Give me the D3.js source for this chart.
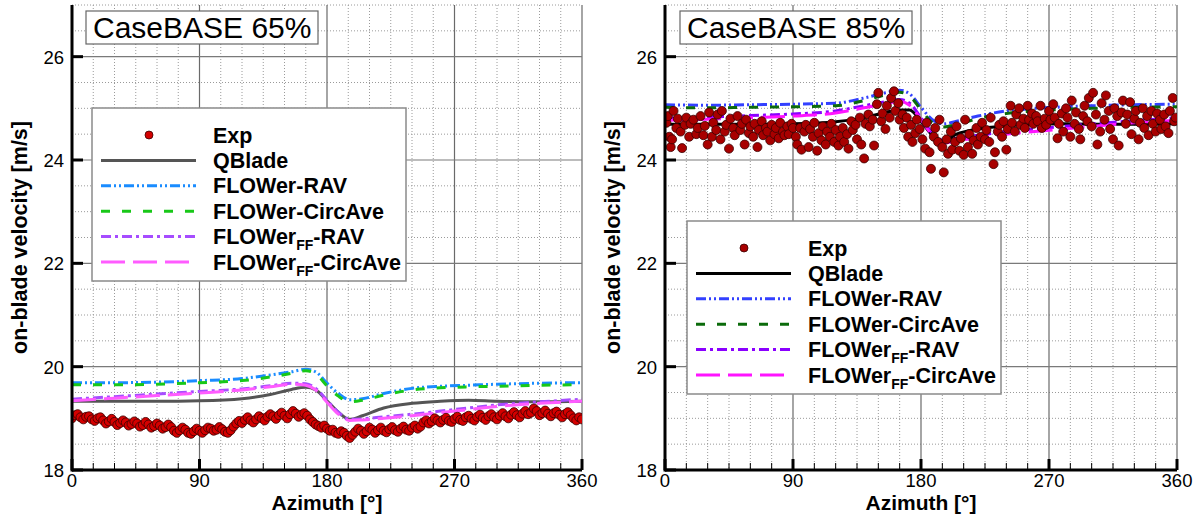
<!DOCTYPE html>
<html>
<head>
<meta charset="utf-8">
<script src="https://cdn.jsdelivr.net/npm/d3@7"></script>
<style>
body { margin: 0; background: #fff; }
svg { display: block; font-family: "Liberation Sans", Arial, Helvetica, sans-serif; }
</style>
</head>
<body>
<svg width="1199" height="517"></svg>
<script>
// ---- data ----
const xTicks = [0, 90, 180, 270, 360];
const yTicks = [18, 20, 22, 24, 26];
const titles = ['CaseBASE 65%', 'CaseBASE 85%'];
const xLabel = 'Azimuth [°]';
const yLabel = 'on-blade velocity [m/s]';

// azimuths where the simulated curves were sampled
const lineAz = [0, 30, 60, 90, 120, 140, 155, 165, 172, 180, 188, 196, 205, 220, 240, 260, 280, 300, 330, 360];

// CaseBASE 65%
const qbladeL   = [19.33, 19.33, 19.33, 19.34, 19.38, 19.46, 19.56, 19.60, 19.55, 19.34, 19.12, 18.98, 19.05, 19.20, 19.29, 19.33, 19.35, 19.33, 19.32, 19.33];
const ravL      = [19.69, 19.69, 19.70, 19.73, 19.77, 19.84, 19.90, 19.95, 19.90, 19.68, 19.48, 19.36, 19.38, 19.48, 19.58, 19.62, 19.64, 19.66, 19.68, 19.69];
const circL     = [19.65, 19.65, 19.66, 19.69, 19.73, 19.80, 19.87, 19.92, 19.86, 19.63, 19.43, 19.32, 19.35, 19.45, 19.55, 19.59, 19.61, 19.62, 19.64, 19.65];
const ffRavL    = [19.37, 19.42, 19.47, 19.52, 19.57, 19.63, 19.68, 19.67, 19.58, 19.35, 19.12, 18.98, 18.99, 19.03, 19.08, 19.14, 19.20, 19.26, 19.32, 19.37];
const ffCircL   = [19.34, 19.39, 19.44, 19.49, 19.55, 19.61, 19.66, 19.64, 19.55, 19.31, 19.08, 18.96, 18.97, 19.00, 19.05, 19.11, 19.17, 19.23, 19.29, 19.33];

// CaseBASE 85%
const qbladeR   = [24.69, 24.69, 24.69, 24.70, 24.74, 24.82, 24.92, 24.97, 24.97, 24.75, 24.48, 24.37, 24.50, 24.60, 24.66, 24.69, 24.70, 24.69, 24.69, 24.70];
const ravR      = [25.07, 25.06, 25.07, 25.08, 25.10, 25.20, 25.30, 25.35, 25.28, 25.02, 24.78, 24.70, 24.75, 24.85, 24.95, 25.00, 25.03, 25.05, 25.07, 25.08];
const circR     = [25.02, 25.01, 25.02, 25.03, 25.05, 25.15, 25.26, 25.31, 25.24, 24.97, 24.72, 24.64, 24.69, 24.80, 24.90, 24.95, 24.98, 25.00, 25.02, 25.03];
const ffRavR    = [24.81, 24.83, 24.86, 24.89, 24.95, 25.05, 25.13, 25.17, 25.10, 24.82, 24.52, 24.38, 24.42, 24.48, 24.55, 24.60, 24.65, 24.70, 24.76, 24.82];
const ffCircR   = [24.77, 24.79, 24.82, 24.85, 24.91, 25.01, 25.09, 25.13, 25.06, 24.78, 24.48, 24.33, 24.37, 24.43, 24.50, 24.55, 24.60, 24.65, 24.72, 24.77];

// experiment, [azimuth, velocity]
const expL = [
  [0,19.00],[2,19.06],[4,19.08],[6,19.02],[8,18.98],[10,19.03],[12,19.04],[14,18.98],[16,18.95],[18,19.00],[20,19.02],
  [22,18.96],[24,18.90],[26,18.94],[28,18.99],[30,18.93],[32,18.87],[34,18.91],[36,18.96],[38,18.92],[40,18.86],
  [42,18.89],[44,18.94],[46,18.90],[48,18.84],[50,18.87],[52,18.93],[54,18.88],[56,18.82],[58,18.85],[60,18.90],
  [62,18.86],[64,18.80],[66,18.83],[68,18.88],[70,18.83],[72,18.76],[74,18.72],[76,18.77],[78,18.82],[80,18.78],
  [82,18.72],[84,18.70],[86,18.75],[88,18.80],[90,18.76],[92,18.72],[94,18.77],[96,18.82],[98,18.80],[100,18.76],
  [102,18.78],[104,18.83],[106,18.79],[108,18.74],[110,18.72],[112,18.77],[114,18.84],[116,18.90],[118,18.95],[120,18.91],
  [122,18.97],[124,19.02],[126,18.96],[128,18.92],[130,18.98],[132,19.04],[134,19.00],[136,18.96],[138,19.03],[140,19.08],
  [142,19.04],[144,18.99],[146,19.06],[148,19.11],[150,19.05],[152,19.00],[154,19.08],[156,19.14],[158,19.09],[160,19.03],
  [162,19.07],[164,19.10],[166,19.05],[168,18.98],[170,18.93],[172,18.88],[174,18.85],[176,18.82],[178,18.86],[180,18.80],
  [182,18.76],[184,18.78],[186,18.72],[188,18.70],[190,18.75],[192,18.72],[194,18.66],[196,18.62],[198,18.68],[200,18.74],
  [202,18.80],[204,18.76],[206,18.70],[208,18.75],[210,18.82],[212,18.78],[214,18.72],[216,18.77],[218,18.82],[220,18.76],
  [222,18.73],[224,18.79],[226,18.83],[228,18.77],[230,18.74],[232,18.80],[234,18.84],[236,18.78],[238,18.76],[240,18.82],
  [242,18.86],[244,18.80],[246,18.84],[248,18.92],[250,18.96],[252,18.90],[254,18.94],[256,19.00],[258,18.96],[260,18.92],
  [262,18.97],[264,19.01],[266,18.95],[268,18.93],[270,18.99],[272,19.03],[274,18.97],[276,18.95],[278,19.02],[280,19.05],
  [282,18.99],[284,18.96],[286,19.03],[288,19.07],[290,19.01],[292,18.97],[294,19.04],[296,19.08],[298,19.02],[300,18.98],
  [302,19.05],[304,19.10],[306,19.04],[308,19.00],[310,19.07],[312,19.12],[314,19.06],[316,19.02],[318,19.09],[320,19.14],
  [322,19.08],[324,19.11],[326,19.19],[328,19.14],[330,19.06],[332,19.10],[334,19.15],[336,19.09],[338,19.04],[340,19.10],
  [342,19.13],[344,19.07],[346,19.02],[348,19.08],[350,19.12],[352,19.06],[354,19.00],[356,18.96],[358,19.02],[360,18.98]
];

const expR = [
  [1,24.72],[2,24.85],[3,24.45],[4,24.25],[5,24.40],[6,24.95],[8,24.62],[9,24.80],[11,24.55],[12,24.23],[14,24.68],[15,24.82],[17,24.45],[18,24.70],[20,24.78],[22,24.50],[23,24.62],[25,24.85],[27,24.48],[28,24.66],[30,24.30],[31,24.92],
  [33,24.45],[34,24.72],[36,24.58],[37,24.88],[39,24.40],[40,24.95],[42,24.55],[43,24.68],[45,24.22],[46,24.80],[48,24.62],[49,24.48],[51,24.85],[53,24.58],[54,24.70],[56,24.30],[57,24.78],[59,24.52],[60,24.65],
  [62,24.45],[63,24.70],[65,24.25],[66,24.58],[68,24.75],[69,24.48],[71,24.62],[72,24.55],[74,24.38],[75,24.68],[77,24.50],[78,24.62],[80,24.42],[81,24.72],[83,24.55],[84,24.48],[86,24.65],[87,24.50],[89,24.70],[90,24.62],
  [92,24.45],[93,24.30],[95,24.62],[96,24.20],[98,24.55],[99,24.68],[101,24.25],[102,24.60],[104,24.45],[105,24.72],[107,24.18],[108,24.52],[110,24.38],[111,24.65],[113,24.30],[114,24.55],[116,24.45],[117,24.70],[119,24.35],[120,24.58],
  [122,24.28],[123,24.45],[125,24.62],[126,24.35],[128,24.50],[129,24.22],[131,24.75],[132,24.58],[134,24.68],[135,24.40],[137,24.82],[138,24.30],[140,24.03],[141,24.70],[143,24.88],[144,24.65],[146,24.78],[147,24.28],[149,25.08],[150,25.30],[152,24.75],
  [153,24.90],[155,24.60],[156,25.05],[158,24.82],[159,25.20],[161,25.33],[162,24.95],[164,25.10],[165,24.78],[167,24.88],[168,24.62],[170,24.82],[171,24.45],[173,24.68],[174,24.35],[176,24.52],[177,24.78],[179,24.60],
  [181,24.40],[183,24.22],[184,24.72],[186,24.15],[187,23.83],[189,24.45],[190,24.62],[192,24.35],[193,24.78],[195,24.25],[196,23.76],[198,24.40],[199,24.12],[201,24.55],[202,24.20],[204,24.35],[205,24.65],[207,24.18],[208,24.42],[210,24.10],
  [211,24.78],[213,24.25],[214,24.50],[216,24.12],[217,24.38],[219,24.62],[220,24.30],[222,24.45],[223,24.72],[225,24.40],[226,24.58],[228,24.35],[229,24.82],[231,23.92],[232,24.15],[234,24.55],[235,24.68],[237,24.45],[238,24.75],[240,24.20],
  [241,24.60],[243,25.05],[244,24.72],[246,24.55],[247,24.88],[249,25.00],[250,24.68],[252,24.80],[253,24.62],[255,25.05],[256,24.78],[258,24.90],[259,24.70],[261,24.85],[262,24.75],[264,25.05],[265,24.62],[267,24.80],[268,24.68],[270,24.95],
  [271,24.78],[273,25.08],[274,24.82],[276,24.42],[277,24.70],[279,24.90],[280,24.55],[282,25.00],[283,24.82],[285,24.45],[286,25.15],[288,24.70],[289,24.92],[291,24.60],[292,24.40],[294,24.85],[295,25.05],[297,24.75],[298,25.20],[300,24.65],
  [301,25.30],[303,24.88],[304,24.30],[306,24.55],[307,25.10],[309,24.78],[310,25.25],[312,24.95],[313,24.60],[315,24.40],[316,25.00],[318,24.85],[319,24.28],[321,24.92],[322,25.15],[324,24.70],[325,24.88],[327,25.12],[328,24.50],[330,24.80],
  [331,24.95],[333,24.40],[334,24.72],[336,25.00],[337,24.62],[339,24.85],[340,24.48],[342,24.95],[343,24.70],[345,24.55],[346,24.90],[348,24.78],[349,24.60],[351,24.88],[352,24.65],[354,24.52],[355,24.95],[357,25.20],[358,24.75],[359,24.82]
];

// legend names: [main, subscript, rest]
const seriesNames = [
  ['Exp', '', ''],
  ['QBlade', '', ''],
  ['FLOWer-RAV', '', ''],
  ['FLOWer-CircAve', '', ''],
  ['FLOWer', 'FF', '-RAV'],
  ['FLOWer', 'FF', '-CircAve']
];
const dashes = [null, null, '10,3,2,3,2,3', '9,12', '10,4,3,4', '24,8'];
const colorsL = ['#d40000', '#555555', '#1a8cff', '#18c818', '#a64dff', '#ff5cff'];
const colorsR = ['#a80000', '#000000', '#3340ff', '#0b6b0b', '#8a00ff', '#ff14ff'];

const svg = d3.select('svg');
const TOP = 5, BOTTOM = 470;

const drawPanel = (p, idx) => {
    const x = d3.scaleLinear().domain([0, 360]).range([p.x0, p.x1]);
    const y = d3.scaleLinear().domain([18, 27]).range([BOTTOM, TOP]);
    const g = svg.append('g').attr('class', 'panel');

    // grid
    const minorX = d3.range(15, 360, 15).filter(v => v % 90 !== 0);
    const minorY = d3.range(18.5, 27.01, 0.5).filter(v => !yTicks.includes(v));
    g.selectAll('.mx').data(minorX).enter().append('line')
        .attr('x1', d => x(d)).attr('x2', d => x(d)).attr('y1', TOP).attr('y2', BOTTOM)
        .attr('stroke', '#9a9a9a').attr('stroke-dasharray', '1,2');
    g.selectAll('.my').data(minorY).enter().append('line')
        .attr('x1', p.x0).attr('x2', p.x1).attr('y1', d => y(d)).attr('y2', d => y(d))
        .attr('stroke', '#9a9a9a').attr('stroke-dasharray', '1,2');
    g.selectAll('.gx').data(xTicks.slice(1)).enter().append('line')
        .attr('x1', d => x(d)).attr('x2', d => x(d)).attr('y1', TOP).attr('y2', BOTTOM)
        .attr('stroke', '#6a6a6a').attr('stroke-width', 1.2);
    g.selectAll('.gy').data(yTicks.slice(1)).enter().append('line')
        .attr('x1', p.x0).attr('x2', p.x1).attr('y1', d => y(d)).attr('y2', d => y(d))
        .attr('stroke', '#7a7a7a').attr('stroke-width', 1.2);

    // data
    const clipId = 'clip' + idx;
    g.append('clipPath').attr('id', clipId).append('rect')
        .attr('x', p.x0).attr('y', TOP).attr('width', p.x1 - p.x0).attr('height', BOTTOM - TOP);
    const dataG = g.append('g').attr('clip-path', `url(#${clipId})`);

    const line = d3.line().x(d => x(d[0])).y(d => y(d[1])).curve(d3.curveMonotoneX);
    p.lines.forEach((vals, i) => {
        dataG.append('path')
            .attr('d', line(lineAz.map((a, k) => [a, vals[k]])))
            .attr('fill', 'none')
            .attr('stroke', p.colors[i + 1])
            .attr('stroke-width', 3)
            .attr('stroke-dasharray', dashes[i + 1]);
    });
    dataG.selectAll('.exp').data(p.exp).enter().append('circle')
        .attr('cx', d => x(d[0])).attr('cy', d => y(d[1]))
        .attr('r', 4.5)
        .attr('fill', p.colors[0])
        .attr('stroke', '#3a0000').attr('stroke-width', 0.8);

    // axes frame and ticks
    g.append('line').attr('x1', p.x0).attr('x2', p.x1).attr('y1', BOTTOM).attr('y2', BOTTOM)
        .attr('stroke', '#000').attr('stroke-width', 3);
    g.append('line').attr('x1', p.x0).attr('x2', p.x0).attr('y1', TOP).attr('y2', BOTTOM + 1.5)
        .attr('stroke', '#000').attr('stroke-width', 3);
    g.selectAll('.tmx').data(minorX).enter().append('line')
        .attr('x1', d => x(d)).attr('x2', d => x(d)).attr('y1', BOTTOM).attr('y2', BOTTOM - 7)
        .attr('stroke', '#000').attr('stroke-width', 1);
    g.selectAll('.tx').data(xTicks).enter().append('line')
        .attr('x1', d => x(d)).attr('x2', d => x(d)).attr('y1', BOTTOM).attr('y2', BOTTOM - 11)
        .attr('stroke', '#000').attr('stroke-width', 3);
    g.selectAll('.ty').data(yTicks).enter().append('line')
        .attr('x1', p.x0).attr('x2', p.x0 + 11).attr('y1', d => y(d)).attr('y2', d => y(d))
        .attr('stroke', '#000').attr('stroke-width', 3);

    g.selectAll('.lx').data(xTicks).enter().append('text')
        .attr('x', d => x(d)).attr('y', 487)
        .attr('text-anchor', 'middle').attr('font-size', 18.5)
        .text(d => d);
    g.selectAll('.ly').data(yTicks).enter().append('text')
        .attr('x', p.x0 - 8).attr('y', d => y(d) + 7)
        .attr('text-anchor', 'end').attr('font-size', 18.5)
        .text(d => d);

    g.append('text').attr('x', (p.x0 + p.x1) / 2).attr('y', 510)
        .attr('text-anchor', 'middle').attr('font-size', 21).attr('font-weight', 'bold')
        .text(xLabel);
    g.append('text').attr('transform', `translate(${p.x0 - 45},${(TOP + BOTTOM) / 2}) rotate(-90)`)
        .attr('text-anchor', 'middle').attr('font-size', 21.5).attr('font-weight', 'bold')
        .text(yLabel);

    // title box
    g.append('rect').attr('x', p.titleX).attr('y', 11).attr('width', 232).attr('height', 33)
        .attr('fill', '#fff').attr('stroke', '#666').attr('stroke-width', 1.2);
    g.append('text').attr('x', p.titleX + 7).attr('y', 38).attr('font-size', 30)
        .text(titles[idx]);

    // legend
    const lg = g.append('g').attr('transform', `translate(${p.legX},${p.legY})`);
    lg.append('rect').attr('width', 314).attr('height', 173)
        .attr('fill', '#fff').attr('stroke', '#8a8a8a').attr('stroke-width', 1.5);
    seriesNames.forEach((name, i) => {
        const ry = 27 + i * 25.4;
        if (i === 0) {
            lg.append('circle').attr('cx', 57).attr('cy', ry).attr('r', 4)
                .attr('fill', p.colors[0]).attr('stroke', '#3a0000').attr('stroke-width', 0.8);
        } else {
            lg.append('line').attr('x1', 9).attr('x2', i === 5 ? 97 : 104).attr('y1', ry).attr('y2', ry)
                .attr('stroke', p.colors[i]).attr('stroke-width', 3)
                .attr('stroke-dasharray', dashes[i]);
        }
        const t = lg.append('text').attr('x', 121).attr('y', ry + 7.5)
            .attr('font-size', 21.5).attr('font-weight', 'bold');
        t.append('tspan').text(name[0]);
        if (name[1]) {
            t.append('tspan').attr('font-size', 14).attr('dy', 6).text(name[1]);
            t.append('tspan').attr('dy', -6).text(name[2]);
        }
    });
};

const panels = [
    { x0: 72, x1: 582, titleX: 86, legX: 92, legY: 108, colors: colorsL, exp: expL,
      lines: [qbladeL, ravL, circL, ffRavL, ffCircL] },
    { x0: 665, x1: 1177, titleX: 680, legX: 687, legY: 221, colors: colorsR, exp: expR,
      lines: [qbladeR, ravR, circR, ffRavR, ffCircR] }
];
panels.forEach(drawPanel);
</script>
</body>
</html>
